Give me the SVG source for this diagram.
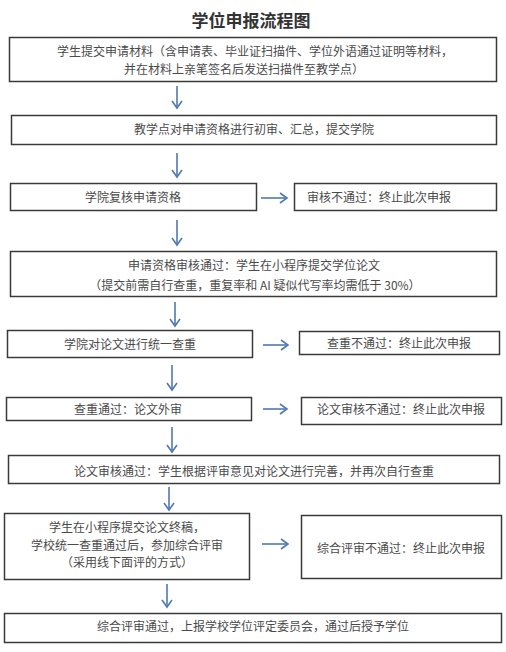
<svg xmlns="http://www.w3.org/2000/svg" width="506" height="652" viewBox="0 0 506 652">
<defs>
<style>
.box{fill:#fff;stroke:#3a3a3a;stroke-width:1.5}
.t{font-family:"Noto Sans CJK SC","Noto Sans",sans-serif;font-size:12px;fill:#4a4a4a;text-anchor:middle}
.title{font-family:"Noto Sans CJK SC","Noto Sans",sans-serif;font-size:17px;font-weight:bold;fill:#333;text-anchor:middle}
.c{stroke:#5079b3;stroke-width:1.6;fill:none}
</style>
<marker id="ah" markerUnits="userSpaceOnUse" markerWidth="12" markerHeight="14" refX="9" refY="6" orient="auto" viewBox="0 0 12 12">
<path d="M2,1 L9,6 L2,11" fill="none" stroke="#5079b3" stroke-width="1.6"/>
</marker>
</defs>
<rect width="506" height="652" fill="#fff"/>
<text class="title" x="251" y="27">学位申报流程图</text>

<g id="n1"><rect class="box" x="9.5" y="37.5" width="487" height="44"/>
<text class="t" x="255" y="56">学生提交申请材料（含申请表、毕业证扫描件、学位外语通过证明等材料，</text>
<text class="t" x="244" y="74">并在材料上亲笔签名后发送扫描件至教学点）</text></g>

<g id="n2"><rect class="box" x="11.5" y="115.5" width="485" height="29"/>
<text class="t" x="254" y="134">教学点对申请资格进行初审、汇总，提交学院</text></g>

<g id="n3"><rect class="box" x="10.5" y="183.5" width="246" height="27"/>
<text class="t" x="133" y="202">学院复核申请资格</text></g>
<g id="n3r"><rect class="box" x="294.5" y="183.5" width="202" height="27"/>
<text class="t" x="379" y="202">审核不通过：终止此次申报</text></g>

<g id="n4"><rect class="box" x="10.5" y="251.5" width="486" height="45"/>
<text class="t" x="254" y="270">申请资格审核通过：学生在小程序提交学位论文</text>
<text class="t" x="255" y="290">（提交前需自行查重，重复率和 AI 疑似代写率均需低于 30%）</text></g>

<g id="n5"><rect class="box" x="7.5" y="330.5" width="245" height="27"/>
<text class="t" x="130" y="349">学院对论文进行统一查重</text></g>
<g id="n5r"><rect class="box" x="299.5" y="331.5" width="200" height="23"/>
<text class="t" x="399" y="348">查重不通过：终止此次申报</text></g>

<g id="n6"><rect class="box" x="6.5" y="397.5" width="245" height="23"/>
<text class="t" x="128" y="414">查重通过：论文外审</text></g>
<g id="n6r"><rect class="box" x="301.5" y="397.5" width="200" height="27"/>
<text class="t" x="401" y="414">论文审核不通过：终止此次申报</text></g>

<g id="n7"><rect class="box" x="8.5" y="455.5" width="491" height="28"/>
<text class="t" x="254" y="476">论文审核通过：学生根据评审意见对论文进行完善，并再次自行查重</text></g>

<g id="n8"><rect class="box" x="4.5" y="513.5" width="245" height="66"/>
<text class="t" x="127" y="532">学生在小程序提交论文终稿，</text>
<text class="t" x="127" y="550">学校统一查重通过后，参加综合评审</text>
<text class="t" x="127" y="567">（采用线下面评的方式）</text></g>
<g id="n8r"><rect class="box" x="301.5" y="515.5" width="200" height="63"/>
<text class="t" x="401" y="553">综合评审不通过：终止此次申报</text></g>

<g id="n9"><rect class="box" x="4.5" y="613.5" width="497" height="29"/>
<text class="t" x="253" y="631">综合评审通过，上报学校学位评定委员会，通过后授予学位</text></g>

<g id="connectors">
<line class="c" x1="177" y1="86" x2="177" y2="108" marker-end="url(#ah)"/>
<line class="c" x1="177" y1="153" x2="177" y2="177" marker-end="url(#ah)"/>
<line class="c" x1="261" y1="198" x2="287" y2="198" marker-end="url(#ah)"/>
<line class="c" x1="177" y1="220" x2="177" y2="245" marker-end="url(#ah)"/>
<line class="c" x1="175" y1="302" x2="175" y2="326" marker-end="url(#ah)"/>
<line class="c" x1="263" y1="345" x2="288" y2="345" marker-end="url(#ah)"/>
<line class="c" x1="172" y1="365" x2="172" y2="390" marker-end="url(#ah)"/>
<line class="c" x1="263" y1="409" x2="287" y2="409" marker-end="url(#ah)"/>
<line class="c" x1="172" y1="427" x2="172" y2="452" marker-end="url(#ah)"/>
<line class="c" x1="169" y1="487" x2="169" y2="510" marker-end="url(#ah)"/>
<line class="c" x1="262" y1="544" x2="288" y2="544" marker-end="url(#ah)"/>
<line class="c" x1="167" y1="584" x2="167" y2="607" marker-end="url(#ah)"/>
</g>
</svg>
